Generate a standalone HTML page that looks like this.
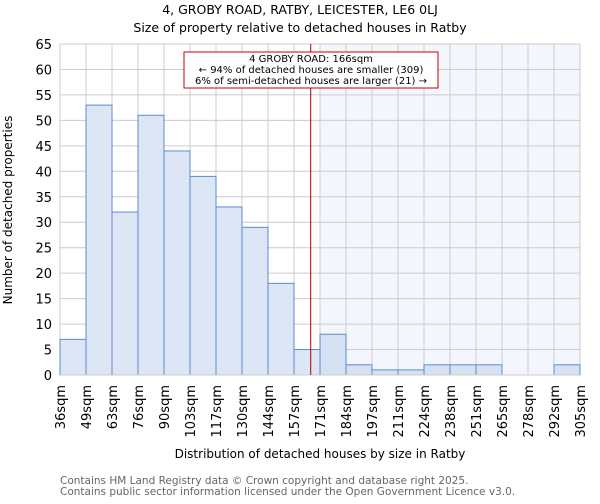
<!DOCTYPE html>
<html><head><meta charset="utf-8"><style>
body{margin:0;background:#fff;font-family:"DejaVu Sans","Liberation Sans",sans-serif;}
svg text{font-family:"DejaVu Sans","Liberation Sans",sans-serif;}
</style></head><body>
<svg id="chart" width="600" height="500" viewBox="0 0 600 500" xmlns="http://www.w3.org/2000/svg">
<text x="300" y="14" text-anchor="middle" font-size="12.5">4, GROBY ROAD, RATBY, LEICESTER, LE6 0LJ</text>
<text x="300" y="32" text-anchor="middle" font-size="12.5">Size of property relative to detached houses in Ratby</text>
<g id="grid"></g><g id="bars"></g><g id="axes"></g>
<text transform="translate(12,210) rotate(-90)" text-anchor="middle" font-size="12">Number of detached properties</text>
<text x="320" y="458" text-anchor="middle" font-size="12">Distribution of detached houses by size in Ratby</text>
<text x="60" y="484" font-size="10.5" fill="#666">Contains HM Land Registry data © Crown copyright and database right 2025.</text>
<text x="60" y="495" font-size="10.5" fill="#666">Contains public sector information licensed under the Open Government Licence v3.0.</text>
</svg>
<script>
const binLabels=["36sqm","49sqm","63sqm","76sqm","90sqm","103sqm","117sqm","130sqm","144sqm","157sqm","171sqm","184sqm","197sqm","211sqm","224sqm","238sqm","251sqm","265sqm","278sqm","292sqm","305sqm"];
const binEdges=[36,49,63,76,90,103,117,130,144,157,171,184,197,211,224,238,251,265,278,292,305];
const counts=[7,53,32,51,44,39,33,29,18,5,8,2,1,1,2,2,2,0,0,2];
const yTicks=[0,5,10,15,20,25,30,35,40,45,50,55,60,65];
const propertySize=166;
const X0=60,X1=580,Y0=375,Y1=44,YMAX=65;
const NS="http://www.w3.org/2000/svg";
const n=counts.length;
function xi(i){return X0+(X1-X0)*i/n;}
function xv(v){let i=0;while(i<binEdges.length-2&&v>binEdges[i+1])i++;return xi(i)+(v-binEdges[i])/(binEdges[i+1]-binEdges[i])*(xi(i+1)-xi(i));}
function y(v){return Y0-(Y0-Y1)*v/YMAX;}
function mk(t,a,p){const e=document.createElementNS(NS,t);for(const k in a)e.setAttribute(k,a[k]);p.appendChild(e);return e;}
const grid=document.getElementById('grid'),bars=document.getElementById('bars'),axes=document.getElementById('axes');
const px=xv(propertySize);
let si=0;while(si<n&&xi(si)<px)si++;
const sh=mk('rect',{x:xi(si),y:Y1,width:X1-xi(si),height:Y0-Y1,fill:'#f3f6fd'},grid);


yTicks.forEach(t=>{
 const l=mk('line',{x1:X0,x2:X1,y1:y(t),y2:y(t),stroke:'#ccc','stroke-width':1},grid);
 
 
 const tx=mk('text',{x:X0-8,y:y(t)+5,'text-anchor':'end','font-size':13},axes);
 tx.textContent=t;
 
 
});
binLabels.forEach((lab,i)=>{
 const l=mk('line',{x1:xi(i),x2:xi(i),y1:Y1,y2:Y0,stroke:'#ccc','stroke-width':1},grid);
 
 
 const tx=mk('text',{x:0,y:0,'text-anchor':'end','font-size':13,transform:`translate(${xi(i)+5},${Y0+10}) rotate(-90)`},axes);
 tx.textContent=lab;
 
 
});
counts.forEach((c,i)=>{
 if(c<=0)return;
 const r=mk('rect',{x:xi(i),y:y(c),width:xi(i+1)-xi(i),height:Y0-y(c),fill:i>=si?'#d6e1f2':'#dde6f4',stroke:'#5b8bd0','stroke-width':1},bars);
 
 
});
const ax=mk('line',{x1:X0,x2:X1,y1:Y0,y2:Y0,stroke:'#ccc'},axes);


const pl=mk('line',{x1:px,x2:px,y1:Y1,y2:Y0,stroke:'#aa0000','stroke-width':1},axes);


const g=mk('g',{},axes);


mk('rect',{x:184,y:52,width:254,height:36,fill:'#fff',stroke:'#cc0000','stroke-width':1},g);
["4 GROBY ROAD: 166sqm","← 94% of detached houses are smaller (309)","6% of semi-detached houses are larger (21) →"].forEach((s,i)=>{
 const t=mk('text',{x:311,y:62+i*11,'text-anchor':'middle','font-size':10},g);
 t.textContent=s;
 
 
});
</script>
</body></html>
